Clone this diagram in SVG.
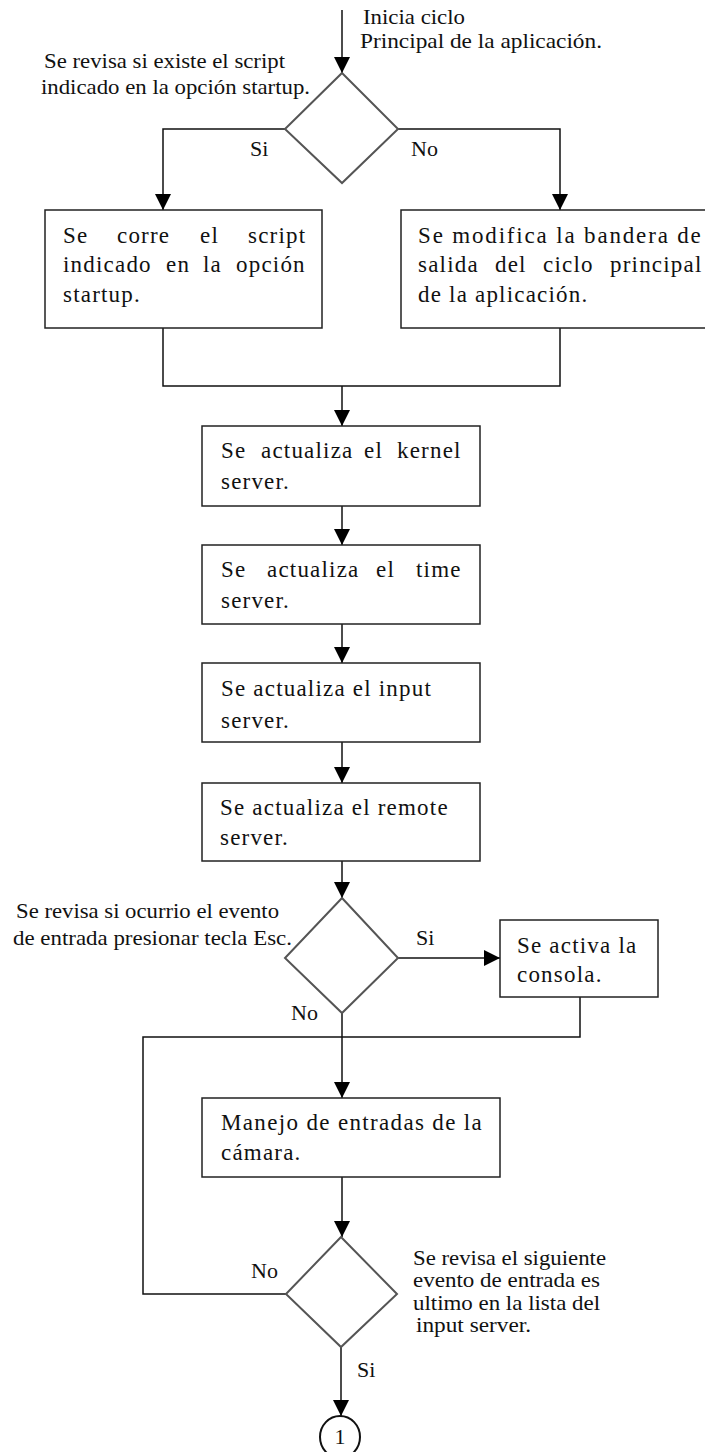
<svg xmlns="http://www.w3.org/2000/svg" width="705" height="1452" viewBox="0 0 705 1452">
<style>
.box{fill:#fff;stroke:#222;stroke-width:1.5}
.dia{fill:#fff;stroke:#555;stroke-width:2}
.ln{fill:none;stroke:#111;stroke-width:1.5}
.bt{font-family:'Liberation Serif','Times New Roman',serif;font-size:23px;letter-spacing:1.2px;fill:#111}
.lb{font-family:'Liberation Serif','Times New Roman',serif;font-size:22px;fill:#111}
.lb2{font-family:'Liberation Serif','Times New Roman',serif;font-size:21px;fill:#111}
</style>
<defs>
<marker id="ah" markerUnits="userSpaceOnUse" markerWidth="16" markerHeight="16" refX="16" refY="8" orient="auto">
<path d="M0,0 L16,8 L0,16 z" fill="#000"/>
</marker>
</defs>
<rect width="705" height="1452" fill="#fff"/>
<g id="connectors">
<line class="ln" x1="342" y1="10" x2="342" y2="73" marker-end="url(#ah)"/>
<path class="ln" d="M285,129 H163 V210" marker-end="url(#ah)"/>
<path class="ln" d="M398,129 H560 V210" marker-end="url(#ah)"/>
<path class="ln" d="M163,328 V386 H560 V328"/>
<line class="ln" x1="342" y1="386" x2="342" y2="426" marker-end="url(#ah)"/>
<line class="ln" x1="342" y1="506" x2="342" y2="545" marker-end="url(#ah)"/>
<line class="ln" x1="342" y1="624" x2="342" y2="663" marker-end="url(#ah)"/>
<line class="ln" x1="342" y1="742" x2="342" y2="783" marker-end="url(#ah)"/>
<line class="ln" x1="342" y1="861" x2="342" y2="898" marker-end="url(#ah)"/>
<line class="ln" x1="398" y1="958" x2="500" y2="958" marker-end="url(#ah)"/>
<line class="ln" x1="342" y1="1013" x2="342" y2="1098" marker-end="url(#ah)"/>
<path class="ln" d="M580,997 V1037 H342"/>
<path class="ln" d="M286,1294 H143 V1037 H342"/>
<line class="ln" x1="342" y1="1177" x2="342" y2="1237" marker-end="url(#ah)"/>
<line class="ln" x1="341" y1="1347" x2="341" y2="1416" marker-end="url(#ah)"/>
</g>
<g id="start-label">
<text class="lb" x="363" y="24" textLength="102" lengthAdjust="spacingAndGlyphs">Inicia ciclo</text>
<text class="lb" x="360" y="48" textLength="242" lengthAdjust="spacingAndGlyphs">Principal de la  aplicación.</text>
</g>
<g id="decision1">
<polygon class="dia" points="342,73 398,129 342,183 285,129"/>
<text class="lb" x="44" y="68" textLength="241" lengthAdjust="spacingAndGlyphs">Se revisa si existe el script</text>
<text class="lb" x="41" y="94" textLength="269" lengthAdjust="spacingAndGlyphs">indicado en la opción startup.</text>
<text class="lb" x="250" y="156">Si</text>
<text class="lb" x="411" y="156">No</text>
</g>
<g id="box-run-script">
<rect class="box" x="45" y="210" width="277" height="118"/>
<text class="bt" y="243"><tspan x="63">Se</tspan><tspan x="117">corre</tspan><tspan x="200">el</tspan><tspan x="248">script</tspan></text>
<text class="bt" y="272"><tspan x="63">indicado</tspan><tspan x="166">en</tspan><tspan x="203">la</tspan><tspan x="236">opción</tspan></text>
<text class="bt" x="63" y="302">startup.</text>
</g>
<g id="box-modify-flag">
<rect class="box" x="401" y="210" width="320" height="118"/>
<text class="bt" x="418" y="243" textLength="284">Se modifica la bandera de</text>
<text class="bt" y="272"><tspan x="418">salida</tspan><tspan x="495">del</tspan><tspan x="543">ciclo</tspan><tspan x="610">principal</tspan></text>
<text class="bt" x="418" y="302">de la aplicación.</text>
</g>
<g id="box-kernel">
<rect class="box" x="202" y="426" width="278" height="80"/>
<text class="bt" y="458"><tspan x="221">Se</tspan><tspan x="261">actualiza</tspan><tspan x="364">el</tspan><tspan x="397">kernel</tspan></text>
<text class="bt" x="221" y="489">server.</text>
</g>
<g id="box-time">
<rect class="box" x="202" y="545" width="278" height="79"/>
<text class="bt" y="577"><tspan x="221">Se</tspan><tspan x="267">actualiza</tspan><tspan x="376">el</tspan><tspan x="416">time</tspan></text>
<text class="bt" x="221" y="608">server.</text>
</g>
<g id="box-input">
<rect class="box" x="202" y="663" width="278" height="79"/>
<text class="bt" x="221" y="696">Se actualiza el input</text>
<text class="bt" x="221" y="728">server.</text>
</g>
<g id="box-remote">
<rect class="box" x="202" y="783" width="278" height="78"/>
<text class="bt" x="220" y="815">Se actualiza el remote</text>
<text class="bt" x="220" y="845">server.</text>
</g>
<g id="decision2">
<polygon class="dia" points="342,898 398,958 342,1013 285,958"/>
<text class="lb" x="16" y="918" textLength="263" lengthAdjust="spacingAndGlyphs">Se revisa si ocurrio el evento</text>
<text class="lb" x="13" y="945" textLength="279" lengthAdjust="spacingAndGlyphs">de entrada presionar tecla Esc.</text>
<text class="lb" x="416" y="945">Si</text>
<text class="lb" x="291" y="1020">No</text>
</g>
<g id="box-console">
<rect class="box" x="500" y="920" width="158" height="77"/>
<text class="bt" x="517" y="953">Se activa la</text>
<text class="bt" x="517" y="982">consola.</text>
</g>
<g id="box-camera">
<rect class="box" x="202" y="1098" width="298" height="79"/>
<text class="bt" x="221" y="1130" textLength="262">Manejo de entradas de la</text>
<text class="bt" x="221" y="1160">cámara.</text>
</g>
<g id="decision3">
<polygon class="dia" points="341,1237 397,1294 341,1347 286,1294"/>
<text class="lb" x="251" y="1278">No</text>
<text class="lb2" x="413" y="1265" textLength="193" lengthAdjust="spacingAndGlyphs">Se revisa el siguiente</text>
<text class="lb2" x="413" y="1287" textLength="187" lengthAdjust="spacingAndGlyphs">evento de entrada es</text>
<text class="lb2" x="413" y="1310" textLength="187" lengthAdjust="spacingAndGlyphs">ultimo en la lista del</text>
<text class="lb2" x="416" y="1332" textLength="115" lengthAdjust="spacingAndGlyphs">input server.</text>
<text class="lb" x="357" y="1377">Si</text>
</g>
<g id="connector-1">
<ellipse cx="340" cy="1437" rx="20" ry="21" fill="#fff" stroke="#111" stroke-width="2"/>
<text class="lb" x="340" y="1444" text-anchor="middle">1</text>
</g>
</svg>
